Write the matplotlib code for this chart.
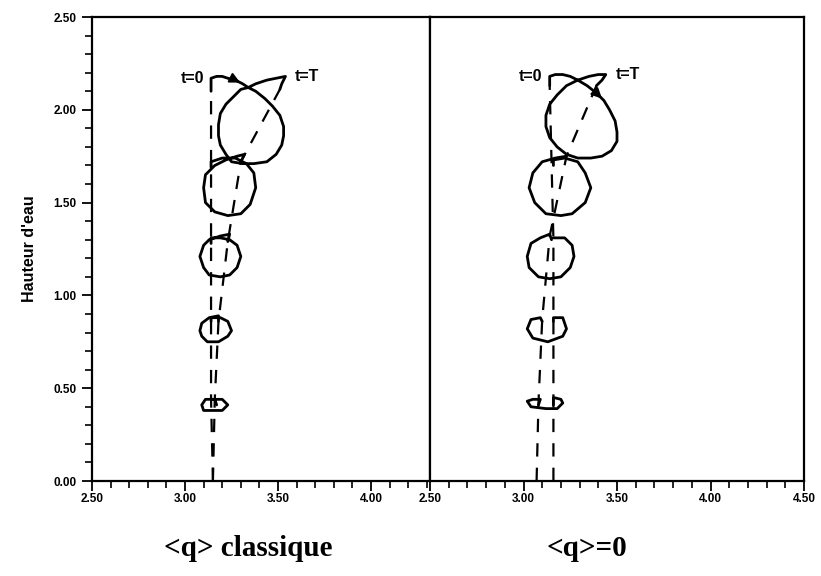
import matplotlib.pyplot as plt

# particle orbits, left panel: <q> classique  (x position, water height)
L1x = [3.14, 3.14, 3.17, 3.20, 3.23, 3.27, 3.31, 3.34, 3.38, 3.43, 3.47, 3.51, 3.53, 3.53,
       3.52, 3.49, 3.44, 3.37, 3.31, 3.25, 3.22, 3.19, 3.18, 3.18, 3.19, 3.22, 3.26, 3.30,
       3.34, 3.38, 3.44, 3.49, 3.54, 3.52, 3.51]
L1z = [2.10, 2.17, 2.18, 2.18, 2.17, 2.16, 2.14, 2.12, 2.10, 2.06, 2.02, 1.97, 1.91, 1.86,
       1.81, 1.76, 1.72, 1.71, 1.71, 1.72, 1.76, 1.81, 1.86, 1.92, 1.98, 2.03, 2.07, 2.11,
       2.12, 2.14, 2.16, 2.17, 2.18, 2.14, 2.11]
L2x = [3.14, 3.14, 3.20, 3.27, 3.33, 3.37, 3.38, 3.35, 3.30, 3.23, 3.16, 3.11, 3.10, 3.11,
       3.16, 3.22, 3.28, 3.32, 3.30]
L2z = [1.69, 1.72, 1.74, 1.74, 1.71, 1.66, 1.58, 1.49, 1.44, 1.43, 1.45, 1.50, 1.58, 1.65,
       1.70, 1.73, 1.75, 1.76, 1.72]
L3x = [3.14, 3.14, 3.19, 3.24, 3.28, 3.30, 3.28, 3.24, 3.19, 3.13, 3.10, 3.08, 3.10, 3.13,
       3.19, 3.24, 3.23]
L3z = [1.28, 1.31, 1.31, 1.30, 1.27, 1.21, 1.15, 1.11, 1.10, 1.11, 1.15, 1.21, 1.27, 1.30,
       1.32, 1.33, 1.29]
L4x = [3.14, 3.14, 3.19, 3.23, 3.25, 3.23, 3.18, 3.12, 3.09, 3.08, 3.09, 3.13, 3.18, 3.18]
L4z = [0.86, 0.88, 0.88, 0.86, 0.81, 0.78, 0.75, 0.75, 0.78, 0.81, 0.85, 0.88, 0.89, 0.86]
L5x = [3.15, 3.20, 3.23, 3.20, 3.15, 3.10, 3.09, 3.11, 3.16, 3.17]
L5z = [0.44, 0.44, 0.41, 0.38, 0.38, 0.38, 0.41, 0.44, 0.44, 0.41]

# dashed lines through start (t=0) and end (t=T) points
LSx = [3.15, 3.14, 3.14]
LSz = [0.00, 0.44, 2.10]
LEx = [3.15, 3.16, 3.18, 3.23, 3.30, 3.51]
LEz = [0.00, 0.44, 0.86, 1.29, 1.72, 2.11]

# right panel: <q>=0
R1x = [3.14, 3.14, 3.17, 3.21, 3.25, 3.29, 3.34, 3.39, 3.43, 3.46, 3.49, 3.50, 3.50, 3.47,
       3.42, 3.36, 3.29, 3.23, 3.18, 3.14, 3.12, 3.12, 3.14, 3.18, 3.23, 3.29, 3.35, 3.40,
       3.44, 3.42, 3.39]
R1z = [2.13, 2.18, 2.19, 2.19, 2.18, 2.16, 2.13, 2.09, 2.05, 2.00, 1.94, 1.88, 1.83, 1.78,
       1.75, 1.74, 1.74, 1.76, 1.80, 1.85, 1.91, 1.97, 2.03, 2.08, 2.13, 2.16, 2.18, 2.19,
       2.19, 2.16, 2.13]
R2x = [3.16, 3.16, 3.22, 3.29, 3.33, 3.36, 3.33, 3.26, 3.20, 3.12, 3.06, 3.03, 3.05, 3.10,
       3.17, 3.23]
R2z = [1.70, 1.73, 1.74, 1.72, 1.66, 1.58, 1.50, 1.44, 1.43, 1.44, 1.50, 1.58, 1.66, 1.72,
       1.74, 1.75]
R3x = [3.16, 3.22, 3.26, 3.27, 3.25, 3.20, 3.14, 3.08, 3.03, 3.02, 3.04, 3.09, 3.14, 3.15]
R3z = [1.31, 1.31, 1.27, 1.21, 1.15, 1.10, 1.09, 1.10, 1.15, 1.21, 1.28, 1.31, 1.33, 1.30]
R4x = [3.16, 3.16, 3.21, 3.23, 3.21, 3.13, 3.05, 3.02, 3.04, 3.09, 3.10]
R4z = [0.86, 0.88, 0.88, 0.82, 0.78, 0.75, 0.77, 0.82, 0.87, 0.88, 0.86]
R5x = [3.16, 3.16, 3.20, 3.21, 3.18, 3.12, 3.04, 3.02, 3.05, 3.09, 3.08]
R5z = [0.41, 0.45, 0.44, 0.42, 0.39, 0.39, 0.40, 0.43, 0.44, 0.44, 0.41]

RSx = [3.16, 3.16, 3.14]
RSz = [0.00, 1.30, 2.13]
REx = [3.07, 3.08, 3.10, 3.14, 3.23, 3.39]
REz = [0.00, 0.42, 0.87, 1.32, 1.75, 2.13]

xmajor = [2.5, 3.0, 3.5, 4.0, 4.5]
ymajor = [0.0, 0.5, 1.0, 1.5, 2.0, 2.5]

tickfont = dict(family='Liberation Sans', weight='bold', size=8.5)


def style_axis(ax, xmax, show_y):
    ax.set_xlim(2.5, xmax)
    ax.set_ylim(0, 2.5)
    ax.set_xticks([t for t in xmajor if t <= xmax])
    ax.set_xticklabels([f'{t:.2f}' for t in xmajor if t <= xmax], fontdict=tickfont)
    ax.set_xticks([2.5 + 0.1 * i for i in range(21) if 2.5 + 0.1 * i <= xmax + 1e-9], minor=True)
    ax.tick_params(axis='x', which='major', direction='out', length=7, width=1.3, pad=2)
    ax.tick_params(axis='x', which='minor', direction='out', length=5, width=1.2)
    if show_y:
        ax.set_yticks(ymajor)
        ax.set_yticklabels([f'{t:.2f}' for t in ymajor], fontdict=tickfont)
        ax.set_yticks([0.1 * i for i in range(26)], minor=True)
        ax.tick_params(axis='y', which='major', direction='out', length=7, width=1.3, pad=4)
        ax.tick_params(axis='y', which='minor', direction='out', length=5, width=1.2)
    else:
        ax.set_yticks([])
    for s in ax.spines.values():
        s.set_linewidth(1.6)


def draw_orbits(ax, orbits, starts, ends):
    ax.plot(starts[0], starts[1], color='black', lw=1.6, ls=(0, (6, 5)))
    ax.plot(ends[0], ends[1], color='black', lw=1.6, ls=(0, (6, 5)))
    for ox, oz in orbits:
        ax.plot(ox, oz, color='black', lw=2.0, solid_capstyle='round', solid_joinstyle='round')


fig = plt.figure(figsize=(8.21, 5.76), dpi=100)
axL = fig.add_axes([92 / 821, 95 / 576, 338 / 821, 464 / 576])
axR = fig.add_axes([430 / 821, 95 / 576, 374 / 821, 464 / 576])

style_axis(axL, 4.317, True)
style_axis(axR, 4.5, False)

draw_orbits(axL, [(L1x, L1z), (L2x, L2z), (L3x, L3z), (L4x, L4z), (L5x, L5z)],
            (LSx, LSz), (LEx, LEz))
draw_orbits(axR, [(R1x, R1z), (R2x, R2z), (R3x, R3z), (R4x, R4z), (R5x, R5z)],
            (RSx, RSz), (REx, REz))

# arrow heads on the top orbits
axL.annotate('', xy=(L1x[6], L1z[6]), xytext=(L1x[5], L1z[5]),
             arrowprops=dict(arrowstyle='-|>', color='black', lw=1.5, mutation_scale=15))
axR.annotate('', xy=(R1x[8], R1z[8]), xytext=(R1x[7], R1z[7]),
             arrowprops=dict(arrowstyle='-|>', color='black', lw=1.5, mutation_scale=15))

for ax, ox, oz in [(axL, L1x, L1z), (axR, R1x, R1z)]:
    ax.annotate('t=0', xy=(ox[1], oz[1]), xytext=(-5, 0), textcoords='offset points',
                ha='right', va='center', family='Liberation Sans', weight='bold', size=11.5)
    ax.annotate('t=T', xy=(ox[-3], oz[-3]), xytext=(7, 0), textcoords='offset points',
                ha='left', va='center', family='Liberation Sans', weight='bold', size=11.5)

axL.set_ylabel("Hauteur d'eau", family='Liberation Sans', weight='bold', size=11.5, labelpad=12)

fig.text(248 / 821, 1 - 548 / 576, '<q> classique', ha='center', va='center',
         family='Liberation Serif', weight='bold', size=21)
fig.text(587 / 821, 1 - 548 / 576, '<q>=0', ha='center', va='center',
         family='Liberation Serif', weight='bold', size=21)

fig.savefig('out.png', dpi=100)
